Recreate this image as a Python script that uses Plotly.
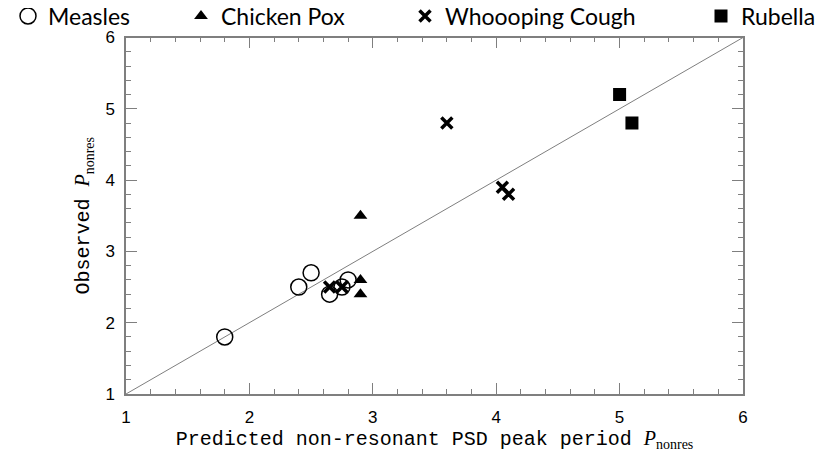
import plotly.graph_objects as go

# predicted vs observed non-resonant PSD peak period
measles_pred = [1.8, 2.4, 2.5, 2.65, 2.75, 2.8]
measles_obs = [1.8, 2.5, 2.7, 2.4, 2.5, 2.6]

chickenpox_pred = [2.9, 2.9, 2.9]
chickenpox_obs = [3.5, 2.6, 2.4]

whooping_pred = [2.65, 2.75, 3.6, 4.05, 4.1]
whooping_obs = [2.5, 2.5, 4.8, 3.9, 3.8]

rubella_pred = [5.0, 5.1]
rubella_obs = [5.2, 4.8]

diag = [1, 6]

GREY = "#7f7f7f"
MONO = "Liberation Mono, Courier New, monospace"
SERIF = "Liberation Serif, Times New Roman, serif"

# page body adds an 8px margin, so the figure is a bit smaller than the window
W, H = 819, 454

fig = go.Figure()

fig.add_trace(go.Scatter(x=diag, y=diag, mode="lines", line=dict(color=GREY, width=1),
                         showlegend=False, hoverinfo="skip"))

fig.add_trace(go.Scatter(x=measles_pred, y=measles_obs, mode="markers", name="Measles",
                         marker=dict(symbol="circle-open", size=16, color="black",
                                     line=dict(width=1.5, color="black")),
                         legend="legend"))
fig.add_trace(go.Scatter(x=chickenpox_pred, y=chickenpox_obs, mode="markers", name="Chicken Pox",
                         marker=dict(symbol="triangle-up", size=12, color="black"),
                         legend="legend2"))
fig.add_trace(go.Scatter(x=whooping_pred, y=whooping_obs, mode="markers", name="Whoooping Cough",
                         marker=dict(symbol="x-thin", size=11, color="black",
                                     line=dict(width=3.5, color="black")),
                         legend="legend3"))
fig.add_trace(go.Scatter(x=rubella_pred, y=rubella_obs, mode="markers", name="Rubella",
                         marker=dict(symbol="square", size=13, color="black"),
                         legend="legend4"))

leg_font = dict(family="Lato, sans-serif", size=23, color="black")


def leg(px_left):
    return dict(x=px_left / W, xref="container", xanchor="left",
                y=1 - 8 / H, yref="container", yanchor="middle",
                orientation="h", font=leg_font, bgcolor="rgba(0,0,0,0)", borderwidth=0)


axis_common = dict(range=[1, 6], dtick=1, showline=True, linecolor=GREY, linewidth=1.5,
                   mirror="ticks", ticks="inside", ticklen=11, tickcolor=GREY, tickwidth=1.2,
                   minor=dict(ticks="inside", ticklen=5, dtick=0.2, tickcolor=GREY, tickwidth=1.2),
                   showgrid=False, zeroline=False, automargin=False,
                   tickfont=dict(family="Liberation Sans, Arial, sans-serif", size=17, color="black"))

title_p = f"<span style=\"font-family:{SERIF}\"><i>P</i><sub>nonres</sub></span>"

fig.update_layout(
    width=W, height=H,
    margin=dict(l=118, r=84, t=26, b=68),
    paper_bgcolor="white", plot_bgcolor="white",
    legend=leg(-3), legend2=leg(173), legend3=leg(397), legend4=leg(693),
    xaxis=dict(axis_common, ticklabelstandoff=7,
               title=dict(text="Predicted non-resonant PSD peak period " + title_p,
                          font=dict(family=MONO, size=20, color="black"), standoff=0)),
    yaxis=dict(axis_common, ticklabelstandoff=6,
               title=dict(text="Observed " + title_p,
                          font=dict(family=MONO, size=20, color="black"), standoff=10)),
)

fig.write_html("out.html")
